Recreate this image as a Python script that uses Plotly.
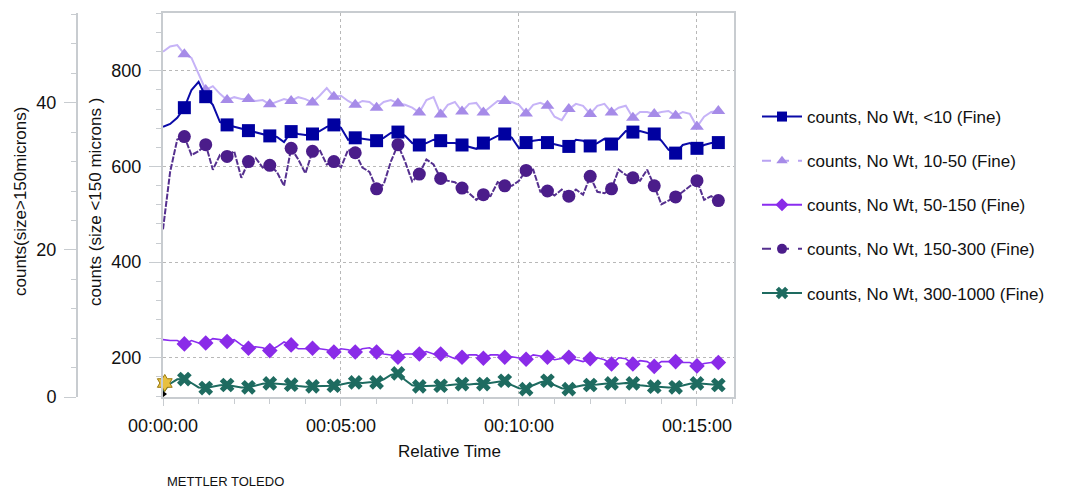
import pandas as pd
import plotly.graph_objects as go

# ---------------- data ----------------
# sample times in minutes (every 0.2 min)
TIME_MIN = [round(0.2 * i, 1) for i in range(79)]

LT10 = [683, 689, 702, 723, 760, 777, 746, 729, 693, 687,
        683, 679, 675, 672, 668, 664, 662, 651, 673, 668,
        666, 668, 674, 683, 687, 681, 656, 660, 658, 656,
        654, 660, 670, 672, 664, 649, 645, 649, 656, 654,
        649, 649, 645, 641, 637, 649, 656, 664, 668, 660,
        638, 650, 654, 656, 650, 647, 643, 642, 656, 654,
        643, 649, 658, 647, 658, 674, 672, 674, 670, 668,
        654, 635, 628, 645, 649, 638, 645, 649, 650]

F10_50 = [840, 851, 854, 835, 827, 794, 760, 768, 752, 739,
          745, 741, 741, 737, 739, 730, 735, 741, 737, 745,
          741, 734, 748, 764, 746, 748, 737, 729, 737, 735,
          723, 735, 739, 732, 729, 723, 713, 739, 745, 709,
          729, 735, 715, 731, 733, 713, 725, 737, 737, 735,
          729, 711, 729, 733, 727, 704, 697, 720, 731, 727,
          710, 727, 731, 713, 723, 727, 702, 714, 714, 710,
          714, 716, 706, 714, 710, 683, 704, 714, 716]

F50_150 = [238, 236, 236, 229, 236, 231, 231, 240, 238, 234,
           238, 227, 220, 223, 221, 215, 223, 233, 227, 219,
           219, 220, 219, 217, 212, 219, 217, 212, 219, 221,
           212, 208, 206, 201, 208, 208, 208, 213, 208, 208,
           204, 198, 201, 206, 206, 199, 206, 206, 201, 202,
           200, 197, 206, 204, 201, 196, 198, 201, 196, 192,
           198, 200, 196, 187, 200, 198, 187, 194, 192, 182,
           192, 192, 192, 190, 190, 183, 188, 190, 190]

F150_300 = [22.8, 30.6, 35.0, 35.4, 32.9, 33.4, 34.3, 30.9, 32.9, 32.7,
            33.4, 29.8, 32.0, 32.5, 31.2, 31.5, 30.6, 28.7, 33.8, 32.3,
            30.4, 33.4, 33.6, 31.6, 32.0, 31.2, 33.6, 33.2, 31.2, 30.6,
            28.3, 28.9, 32.0, 34.3, 32.0, 29.3, 30.3, 32.3, 31.6, 29.7,
            29.4, 29.2, 28.4, 27.7, 26.8, 27.5, 27.3, 29.2, 28.7, 28.7,
            29.4, 30.8, 30.9, 27.9, 28.0, 27.4, 28.2, 27.3, 28.2, 27.5,
            30.0, 27.9, 27.7, 28.3, 30.9, 30.2, 29.8, 29.4, 30.9, 28.7,
            26.2, 26.7, 27.2, 27.9, 28.7, 29.4, 26.8, 27.3, 26.7]

F300_1000 = [0.7, 1.8, 2.4, 2.44, 1.9, 1.3, 1.22, 1.4, 1.6, 1.63,
             1.5, 1.3, 1.32, 1.6, 1.8, 1.86, 1.8, 1.7, 1.67, 1.5,
             1.4, 1.45, 1.5, 1.5, 1.53, 1.7, 1.9, 1.99, 1.9, 2.0,
             1.99, 2.4, 3.0, 3.21, 2.3, 1.6, 1.45, 1.5, 1.5, 1.53,
             1.6, 1.7, 1.76, 1.7, 1.8, 1.76, 1.9, 2.1, 2.21, 1.6,
             1.2, 1.08, 1.6, 2.0, 2.21, 1.6, 1.2, 1.08, 1.4, 1.6,
             1.63, 1.7, 1.8, 1.86, 1.8, 1.9, 1.86, 1.6, 1.5, 1.40,
             1.4, 1.3, 1.32, 1.6, 1.8, 1.86, 1.8, 1.7, 1.63]

SERIES_NAMES = ["counts, No Wt, <10 (Fine)",
                "counts, No Wt, 10-50 (Fine)",
                "counts, No Wt, 50-150 (Fine)",
                "counts, No Wt, 150-300 (Fine)",
                "counts, No Wt, 300-1000 (Fine)"]

# event flag at start of the run (minutes, counts >150 axis)
EVENT_TIME = [0.05]
EVENT_LEVEL = [1.9]
START_TIME = [0.0]
START_LEVEL = [0.4]

MARK_EVERY = 3  # a marker on every 3rd sample (0.6 min)

# ---------------- figure ----------------
for arr in (LT10, F10_50, F50_150, F150_300, F300_1000):
    assert len(arr) == len(TIME_MIN)

def to_time(mins):
    return pd.to_datetime([m * 60 for m in mins], unit="s")

t = to_time(TIME_MIN)
mk_idx = [i for i in range(len(TIME_MIN)) if i > 0 and i % MARK_EVERY == 0]
t_mk = t[mk_idx]

styles = [
    # name idx, data, axis, line color, line width, dash, marker symbol, marker color, size
    (0, LT10, "y", "#0a0aa8", 2.0, "solid", "square", "#0000a0", 13),
    (1, F10_50, "y", "#c6b3f7", 2.0, "solid", "triangle-up", "#a68be8", 12),
    (2, F50_150, "y", "#8a2cf0", 1.6, "solid", "diamond", "#8a2be8", 12),
    (3, F150_300, "y2", "#55308f", 2.0, "6px,1.5px", "circle", "#4b1d8a", 13),
    (4, F300_1000, "y2", "#1e6b60", 2.0, "solid", "x", "#1e6b60", 13),
]

draw_order = [1, 0, 2, 3, 4]
fig = go.Figure()
for k in draw_order:
    i, data, ax, lc, lw, dash, sym, mc, ms = styles[k]
    fig.add_trace(go.Scatter(x=t, y=data, yaxis=ax, mode="lines",
                             line=dict(color=lc, width=lw, dash=dash),
                             showlegend=False, hoverinfo="skip"))
    fig.add_trace(go.Scatter(x=t_mk, y=[data[j] for j in mk_idx], yaxis=ax,
                             mode="markers",
                             marker=dict(symbol=sym, color=mc, size=ms,
                                         line=dict(width=0)),
                             showlegend=False))

# legend entries
for k in range(5):
    i, data, ax, lc, lw, dash, sym, mc, ms = styles[k]
    fig.add_trace(go.Scatter(x=[None], y=[None], yaxis=ax, mode="lines+markers",
                             name=SERIES_NAMES[i], legendgroup=f"g{k}",
                             line=dict(color=lc if k != 1 else "#b9a3f2", width=2,
                                       dash="dash" if k in (1, 3) else "solid"),
                             marker=dict(symbol=sym, color=mc, size=10 if k != 4 else 11,
                                         line=dict(width=0))))

# start / event flags
fig.add_trace(go.Scatter(x=to_time(START_TIME), y=START_LEVEL, yaxis="y2",
                         mode="markers",
                         marker=dict(symbol="triangle-right", size=8, color="black"),
                         showlegend=False, cliponaxis=False))
fig.add_trace(go.Scatter(x=to_time(EVENT_TIME), y=EVENT_LEVEL, yaxis="y2",
                         mode="markers",
                         marker=dict(symbol="hexagram", size=13, color="#e8c040",
                                     line=dict(color="#9a7a10", width=1)),
                         showlegend=False, cliponaxis=False))

FONT = "Liberation Sans, Arial, sans-serif"
X0, X1 = 163 / 1074, 734 / 1074
Y0, Y1 = 1 - 397 / 490, 1 - 13 / 490
GRID = "#b8b8b8"
AXC = "#c8ccd0"

fig.update_layout(
    template="none",
    width=1074, height=490,
    margin=dict(l=0, r=0, t=0, b=0),
    paper_bgcolor="white", plot_bgcolor="white",
    font=dict(family=FONT, size=18, color="#111111"),
    xaxis=dict(domain=[X0, X1], type="date", automargin=False,
               range=["1970-01-01 00:00:00", "1970-01-01 00:16:02.4"],
               tickformat="%H:%M:%S", dtick=300000, tick0="1970-01-01 00:00:00",
               showgrid=True, gridcolor=GRID, griddash="dot", gridwidth=1,
               showline=True, linecolor=AXC, linewidth=2, mirror=True,
               ticks="outside", ticklen=7, tickcolor=AXC, tickwidth=1,
               ticklabelstandoff=4,
               minor=dict(dtick=60000, ticks="outside", ticklen=5, tickcolor=AXC,
                          showgrid=False),
               zeroline=False, tickfont=dict(size=18)),
    yaxis=dict(domain=[Y0, Y1], range=[118, 921], automargin=False,
               tickvals=[200, 400, 600, 800],
               showgrid=True, gridcolor=GRID, griddash="dot", gridwidth=1,
               showline=True, linecolor=AXC, linewidth=2, mirror=True,
               ticks="outside", ticklen=12, tickcolor=AXC, tickwidth=1,
               ticklabelstandoff=4,
               minor=dict(dtick=40, tick0=0, ticks="outside", ticklen=5,
                          tickcolor=AXC, showgrid=False),
               zeroline=False, tickfont=dict(size=18)),
    yaxis2=dict(overlaying="y", anchor="free", position=77 / 1074, side="left",
                automargin=False,
                range=[0, 52.2], tickvals=[0, 20, 40],
                showgrid=False, showline=True, linecolor=AXC, linewidth=2,
                ticks="outside", ticklen=12, tickcolor=AXC, tickwidth=1,
                ticklabelstandoff=4,
                minor=dict(dtick=4, tick0=0, ticks="outside", ticklen=5,
                           tickcolor=AXC, showgrid=False),
                zeroline=False, tickfont=dict(size=18)),
    legend=dict(x=757 / 1074, y=1 - 99 / 490, xanchor="left", yanchor="top",
                font=dict(size=17, family=FONT), tracegroupgap=19,
                bgcolor="rgba(0,0,0,0)", itemwidth=40),
    showlegend=True,
)

ann = [
    dict(text="counts (size <150 microns )", x=95 / 1074, y=1 - 202 / 490,
         textangle=-90, font=dict(size=17)),
    dict(text="counts(size>150microns)", x=20 / 1074, y=1 - 202 / 490,
         textangle=-90, font=dict(size=17)),
    dict(text="Relative Time", x=449 / 1074, y=1 - 451 / 490, font=dict(size=17)),
    dict(text="METTLER TOLEDO", x=165 / 1074, y=1 - 481 / 490, xanchor="left",
         font=dict(size=13)),
]
for a in ann:
    a.update(xref="paper", yref="paper", showarrow=False)
    a.setdefault("xanchor", "center")
    a["yanchor"] = "middle"
fig.update_layout(annotations=ann)

fig.write_html("out.html",
               config={"displayModeBar": False},
               post_script="document.body.style.margin='0';"
                           "document.body.style.overflow='hidden';")
